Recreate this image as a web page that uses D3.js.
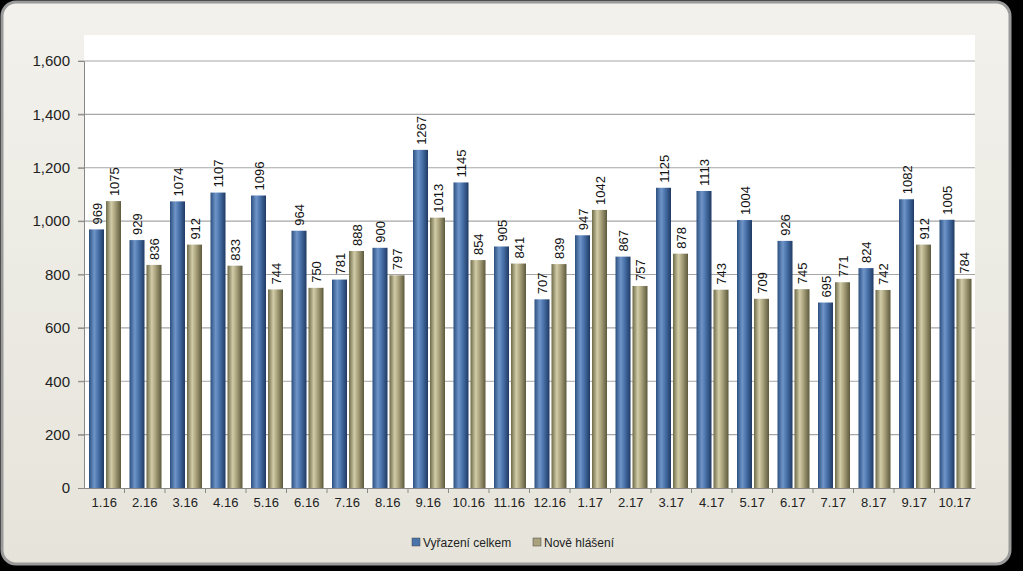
<!DOCTYPE html><html><head><meta charset="utf-8"><script src="https://cdn.jsdelivr.net/npm/d3@7"></script>
<style>body{margin:0;background:#000}</style></head><body><svg width="1023" height="571"></svg><script>
const categories=["1.16","2.16","3.16","4.16","5.16","6.16","7.16","8.16","9.16","10.16","11.16","12.16","1.17","2.17","3.17","4.17","5.17","6.17","7.17","8.17","9.17","10.17"];
const vyrazeni=[969,929,1074,1107,1096,964,781,900,1267,1145,905,707,947,867,1125,1113,1004,926,695,824,1082,1005];
const nove=[1075,836,912,833,744,750,888,797,1013,854,841,839,1042,757,878,743,709,745,771,742,912,784];
const yTicks=[0,200,400,600,800,1000,1200,1400,1600];
const seriesNames=["Vyřazení celkem","Nově hlášení"];
const svg=d3.select("svg");
const defs=svg.append("defs");
function grad(id,stops){const g=defs.append("linearGradient").attr("id",id);stops.forEach(s=>g.append("stop").attr("offset",s[0]).attr("stop-color",s[1]));}
grad("gb",[[0,"#2c4f80"],[0.35,"#6f95c8"],[0.6,"#4a73ab"],[1,"#1f3a63"]]);
grad("go",[[0,"#6d6a48"],[0.35,"#d2cca8"],[0.6,"#a9a27c"],[1,"#5c593c"]]);
const fg=defs.append("linearGradient").attr("id","fr").attr("x1",0).attr("y1",0).attr("x2",0).attr("y2",1);
fg.append("stop").attr("offset",0).attr("stop-color","#f2f1ec");fg.append("stop").attr("offset",1).attr("stop-color","#e6e4da");
svg.append("rect").attr("x",2).attr("y",2).attr("width",1008).attr("height",562).attr("rx",14).attr("fill","url(#fr)").attr("stroke","#9a9a9a").attr("stroke-width",3);
const L=84,R=975,T=35,B=488;
svg.append("rect").attr("x",L).attr("y",T).attr("width",R-L).attr("height",B-T).attr("fill","#fff");
const x=d3.scaleBand().domain(categories).range([L,R]);
const y=d3.scaleLinear().domain([0,1600]).range([B,61]);
const g=svg.append("g");
yTicks.forEach(t=>{if(t>0)g.append("line").attr("x1",L-6).attr("x2",R).attr("y1",y(t)).attr("y2",y(t)).attr("stroke","#a6a6a6").attr("stroke-width",1.2);});
svg.append("g").attr("transform",`translate(${L},0)`).call(d3.axisLeft(y).tickValues(yTicks).tickSize(6).tickPadding(8)).call(a=>{a.select(".domain").attr("stroke","#888");a.selectAll("line").attr("stroke","#888");a.selectAll("text").attr("font-family","Liberation Sans, Arial").attr("font-size",15).attr("fill","#222");});
svg.append("g").attr("transform",`translate(0,${B})`).call(d3.axisBottom(x).tickSize(0).tickPadding(10)).call(a=>{a.select(".domain").attr("stroke","#888");a.selectAll("text").attr("font-family","Liberation Sans, Arial").attr("font-size",13).attr("fill","#222");});
categories.forEach((c,i)=>{if(i>0)svg.append("line").attr("x1",x(c)).attr("x2",x(c)).attr("y1",B).attr("y2",B+5).attr("stroke","#888");});
const bw=15;
[[vyrazeni,"gb",5],[nove,"go",22]].forEach(([vals,gid,off])=>{
 vals.forEach((v,i)=>{const bx=x(categories[i])+off;
  svg.append("rect").attr("x",bx).attr("y",y(v)).attr("width",bw).attr("height",B-y(v)).attr("fill",`url(#${gid})`);
  svg.append("text").attr("transform",`translate(${bx+bw/2+5},${y(v)-5}) rotate(-90)`).attr("font-family","Liberation Sans, Arial").attr("font-size",13).attr("fill","#111").text(v);
 });});
const lg=svg.append("g").attr("font-family","Liberation Sans, Arial").attr("font-size",12).attr("fill","#222");
[[412,"#4a73ab"],[533,"#a9a27c"]].forEach(([lx,col],i)=>{lg.append("rect").attr("x",lx).attr("y",538).attr("width",8).attr("height",8).attr("fill",col).attr("stroke","#444").attr("stroke-width",0.5);lg.append("text").attr("x",lx+11).attr("y",547).text(seriesNames[i]);});
</script></body></html>
